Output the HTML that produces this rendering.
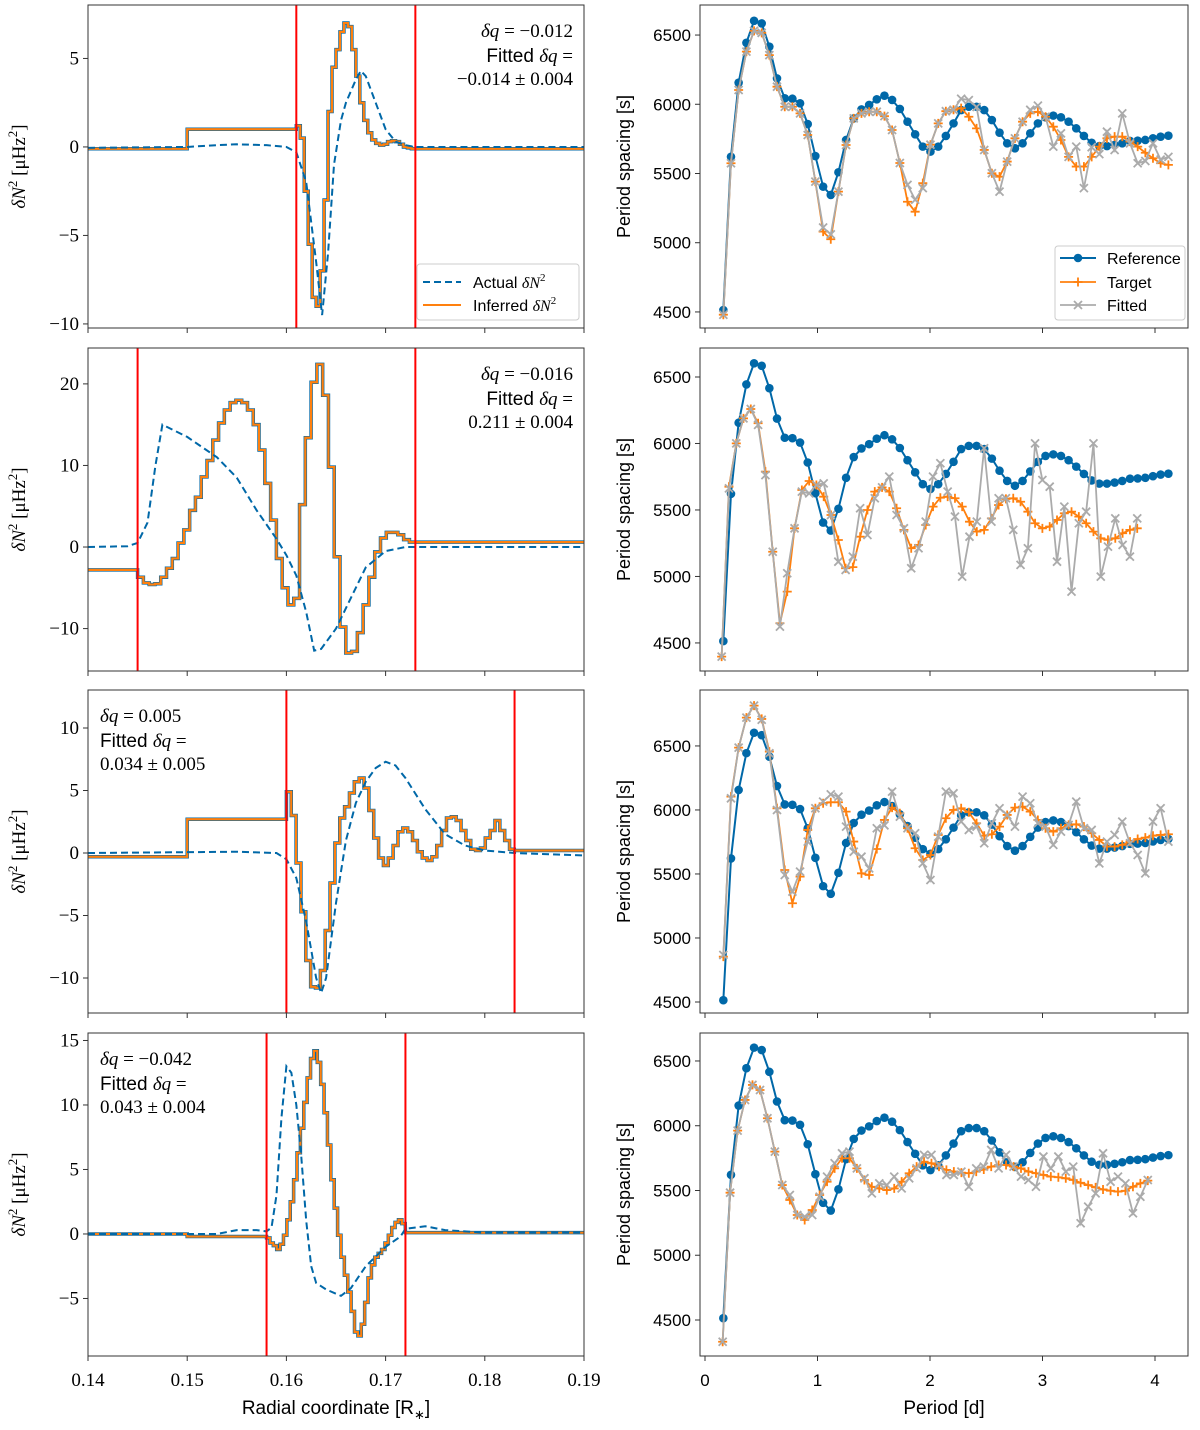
<!DOCTYPE html>
<html><head><meta charset="utf-8"><style>
body{margin:0;background:#fff}
svg text{font-family:"Liberation Sans",sans-serif}
.serif{font-family:"Liberation Serif",serif}
</style></head><body>
<svg id="fig" xmlns="http://www.w3.org/2000/svg" width="1200" height="1425" viewBox="0 0 1200 1425">
<rect width="1200" height="1425" fill="#fff"/>
</svg>
<script>
// ---------- Left panel data ----------
const actX1=[0.14,0.15,0.153,0.155,0.158,0.160,0.161,0.162,0.163,0.1636,0.1642,0.1648,0.1655,0.166,0.167,0.1675,0.168,0.169,0.170,0.171,0.172,0.173,0.19];
const actY1=[-0.05,0,0.1,0.15,0.1,0,-0.3,-2,-6.5,-9.5,-6,-1,1.5,2.5,3.8,4.3,4,2.5,1,0.3,0.1,0,0];
const actX2=[0.14,0.144,0.145,0.146,0.1468,0.1475,0.150,0.153,0.155,0.157,0.159,0.160,0.161,0.162,0.1628,0.1635,0.165,0.167,0.168,0.170,0.172,0.19];
const actY2=[0,0.1,0.5,3,10,15,13.5,11,8.5,4.5,1,-1,-3.5,-8,-12.7,-12.5,-10,-5,-2.5,-0.5,0,0];
const actX3=[0.14,0.155,0.159,0.160,0.161,0.162,0.163,0.1635,0.164,0.165,0.166,0.167,0.168,0.169,0.170,0.171,0.172,0.174,0.176,0.178,0.180,0.183,0.19];
const actY3=[0,0.1,0,-0.5,-2,-5.5,-10,-11.2,-10,-4,1,4,5.7,6.8,7.3,7,6,3.5,1.5,0.6,0.2,0,-0.2];
const actX4=[0.14,0.153,0.155,0.157,0.158,0.1585,0.159,0.1595,0.160,0.1605,0.161,0.1615,0.162,0.1625,0.163,0.164,0.1655,0.1665,0.168,0.170,0.1715,0.172,0.174,0.176,0.18,0.19];
const actY4=[0,0,0.3,0.3,0.2,0.5,3,9,13,12.5,10,6,1,-2.5,-3.8,-4.3,-4.8,-4.2,-2.5,-1,-0.2,0.4,0.6,0.3,0.1,0.1];
const flat1=[[0.14,0.15,-0.1],[0.15,0.161,1.0],[0.173,0.19,-0.1]];
const binStart1=0.161, binW1=0.0004;
const inf1=[1.2,0.5,-2.5,-5.5,-8.5,-9.0,-7,-3,2,4.5,5.5,6.5,7.0,6.8,5.5,4,2.5,1.5,0.8,0.4,0.2,0.1,0.15,0.3,0.35,0.3,0.15,0,-0.05,-0.1];
const flat2=[[0.14,0.145,-2.8],[0.173,0.19,0.6]];
const binStart2=0.145, binW2=0.000583;
const inf2=[-3.7,-4.4,-4.6,-4.5,-3.7,-2.6,-1.4,0.5,2.1,4.5,6.1,8.6,10.6,13.1,15.2,16.8,17.7,18,17.7,16.8,15,11.9,7.8,3.3,-1.4,-5,-7.1,-6.3,5.2,13.4,20.2,22.4,18.6,9.8,-1.2,-9.8,-13,-12.8,-10.5,-7.1,-3.7,-0.6,1.1,1.8,1.8,1.5,0.9,0.6];
const flat3=[[0.14,0.15,-0.3],[0.15,0.160,2.7],[0.183,0.19,0.2]];
const binStart3=0.160, binW3=0.000489;
const inf3=[4.9,3.0,-0.8,-4.7,-8.6,-10.7,-10.8,-9.4,-6.2,-2.4,0.8,2.8,3.7,4.8,5.7,6.0,5.2,3.4,1.2,-0.4,-1,-0.4,0.6,1.7,2,1.7,1,0.1,-0.4,-0.6,-0.3,0.6,1.8,2.8,2.9,2.6,1.8,1,0.3,0.2,0.4,1.2,1.8,2.6,1.8,1,0.3];
const flat4=[[0.14,0.15,0],[0.15,0.158,-0.2],[0.172,0.19,0.1]];
const binStart4=0.158, binW4=0.000341;
const inf4=[-0.3,-0.7,-0.9,-1.2,-0.8,-0.1,1.1,2.5,4.2,6.3,8.2,10.2,12.1,13.6,14.2,13.3,11.6,9.4,6.9,4.2,2.0,-0.1,-1.8,-3.2,-4.5,-6,-7.6,-7.9,-7,-5.3,-3.4,-2.4,-1.8,-1.5,-1.2,-0.7,-0.1,0.5,0.9,1.1,0.8];
const redLines1=[0.161,0.173], redLines2=[0.145,0.173], redLines3=[0.160,0.183], redLines4=[0.158,0.172];
const xTicksLeft=[0.14,0.15,0.16,0.17,0.18,0.19];
const xTickLabelsLeft=["0.14","0.15","0.16","0.17","0.18","0.19"];
const yTicks1=[-10,-5,0,5], yTicks2=[-10,0,10,20], yTicks3=[-10,-5,0,5,10], yTicks4=[-5,0,5,10,15];

// ---------- Right panel data ----------
const refPeriods=[0.163,0.231,0.299,0.368,0.436,0.504,0.572,0.640,0.709,0.777,0.845,0.913,0.981,1.050,1.118,1.186,1.254,1.322,1.391,1.459,1.527,1.595,1.663,1.732,1.800,1.868,1.936,2.004,2.073,2.141,2.209,2.277,2.345,2.414,2.482,2.550,2.618,2.686,2.755,2.823,2.891,2.959,3.027,3.096,3.164,3.232,3.300,3.368,3.437,3.505,3.573,3.641,3.709,3.778,3.846,3.914,3.982,4.050,4.119];
const refSpacing=[4514,5621,6156,6444,6603,6584,6416,6187,6043,6040,6007,5857,5626,5405,5345,5509,5742,5898,5963,5995,6036,6062,6031,5966,5874,5783,5694,5658,5694,5771,5862,5958,5982,5982,5958,5886,5795,5718,5682,5718,5790,5862,5906,5918,5906,5874,5826,5771,5722,5698,5698,5706,5718,5735,5737,5742,5754,5766,5773];
const target1=[4480,5574,6103,6380,6530,6516,6355,6127,5982,5982,5934,5778,5441,5080,5025,5369,5706,5898,5934,5946,5946,5914,5814,5576,5296,5224,5430,5708,5862,5950,5960,5972,5910,5826,5670,5502,5477,5586,5754,5874,5934,5946,5910,5838,5742,5620,5550,5550,5620,5694,5754,5766,5766,5730,5694,5650,5610,5574,5562];
const fitted1=[4480,5574,6103,6380,6530,6516,6355,6127,5982,5982,5934,5778,5441,5110,5060,5369,5706,5898,5934,5946,5946,5914,5814,5576,5418,5310,5394,5708,5862,5950,5960,6040,6030,5980,5670,5502,5369,5586,5754,5874,5960,5990,5910,5694,5790,5620,5694,5394,5690,5640,5802,5670,5934,5718,5574,5590,5718,5600,5620];
const periods2=[0.148,0.213,0.278,0.342,0.407,0.472,0.537,0.602,0.666,0.731,0.796,0.861,0.926,0.990,1.055,1.120,1.185,1.250,1.314,1.379,1.444,1.509,1.574,1.638,1.703,1.768,1.833,1.898,1.962,2.027,2.092,2.157,2.222,2.286,2.351,2.416,2.481,2.546,2.610,2.675,2.740,2.805,2.870,2.934,2.999,3.064,3.129,3.194,3.258,3.323,3.388,3.453,3.518,3.582,3.647,3.712,3.777,3.842];
const target2=[4397,5675,6001,6189,6259,6152,5788,5186,4648,4886,5362,5650,5718,5688,5600,5462,5274,5062,5070,5299,5500,5638,5670,5638,5513,5350,5212,5237,5387,5525,5592,5600,5588,5525,5412,5337,5350,5437,5537,5583,5588,5562,5487,5400,5362,5375,5425,5475,5487,5450,5400,5337,5287,5275,5287,5325,5350,5362];
const fitted2=[4397,5662,6001,6189,6259,6140,5762,5186,4623,5024,5362,5638,5625,5688,5700,5462,5111,5049,5149,5513,5312,5588,5670,5751,5462,5362,5062,5212,5412,5751,5851,5638,5450,4999,5299,5412,5964,5412,5588,5588,5350,5087,5212,6001,5725,5675,5111,5525,4886,5400,5487,6001,4999,5224,5437,5237,5149,5437];
const target3=[4854,6104,6487,6721,6815,6711,6456,6013,5531,5271,5479,5844,6013,6052,6060,6060,5987,5753,5505,5492,5695,5922,6018,5974,5857,5701,5609,5648,5805,5935,6000,6013,5982,5896,5799,5810,5870,5961,6018,6026,5987,5922,5857,5831,5857,5883,5888,5870,5818,5766,5714,5714,5727,5753,5773,5784,5799,5805,5810];
const fitted3=[4867,6091,6487,6721,6815,6705,6443,6000,5492,5362,5518,5753,6013,6065,6122,6104,5870,5674,5635,5544,5857,5880,6143,5948,5857,5818,5583,5453,5792,6143,6130,5909,5844,5870,5740,5896,6013,5961,5870,6104,6052,5896,5870,5727,5831,5883,6065,5857,5844,5583,5753,5805,5909,5740,5648,5505,5909,6013,5753];
const periods4=[0.157,0.223,0.290,0.356,0.422,0.489,0.555,0.621,0.687,0.754,0.820,0.886,0.953,1.019,1.085,1.152,1.218,1.284,1.350,1.417,1.483,1.549,1.616,1.682,1.748,1.815,1.881,1.947,2.013,2.080,2.146,2.212,2.279,2.345,2.411,2.478,2.544,2.610,2.676,2.743,2.809,2.875,2.942,3.008,3.074,3.141,3.207,3.273,3.339,3.406,3.472,3.538,3.605,3.671,3.737,3.804,3.870,3.936];
const target4=[4332,5483,5962,6199,6315,6276,6058,5800,5542,5427,5311,5272,5349,5465,5568,5671,5749,5749,5671,5581,5529,5516,5503,5516,5568,5633,5684,5723,5710,5684,5659,5646,5638,5633,5646,5662,5684,5697,5697,5684,5671,5646,5633,5620,5607,5602,5594,5581,5560,5542,5524,5508,5498,5491,5498,5529,5555,5576];
const fitted4=[4332,5483,5962,6199,6315,6276,6058,5800,5542,5465,5311,5298,5311,5452,5607,5710,5787,5800,5671,5594,5478,5555,5542,5607,5516,5594,5671,5775,5775,5697,5620,5620,5646,5529,5671,5684,5813,5671,5775,5684,5607,5581,5529,5762,5671,5762,5646,5684,5247,5375,5478,5787,5568,5607,5555,5324,5452,5581];
const xTicksRight=[0,1,2,3,4];
const yTicksRight=[4500,5000,5500,6000,6500];

const NS="http://www.w3.org/2000/svg";
const svg=document.getElementById('fig');
function el(tag,attrs,parent){const e=document.createElementNS(NS,tag);for(const k in attrs)e.setAttribute(k,attrs[k]);(parent||svg).appendChild(e);return e;}
const BLUE="#0068a8", ORANGE="#ff800e", GRAY="#ababab";

const leftPanels=[
 {top:5,bot:328,ymin:-10.23,ymax:8.02,ax:actX1,ay:actY1,flat:flat1,bs:binStart1,bw:binW1,inf:inf1,red:redLines1,yt:yTicks1},
 {top:348,bot:671,ymin:-15.2,ymax:24.4,ax:actX2,ay:actY2,flat:flat2,bs:binStart2,bw:binW2,inf:inf2,red:redLines2,yt:yTicks2},
 {top:690,bot:1013,ymin:-12.8,ymax:13.04,ax:actX3,ay:actY3,flat:flat3,bs:binStart3,bw:binW3,inf:inf3,red:redLines3,yt:yTicks3},
 {top:1033,bot:1356,ymin:-9.46,ymax:15.58,ax:actX4,ay:actY4,flat:flat4,bs:binStart4,bw:binW4,inf:inf4,red:redLines4,yt:yTicks4}];
const LX0=88,LX1=584;
function lx(v){return LX0+(v-0.14)/(0.19-0.14)*(LX1-LX0);}
leftPanels.forEach((p,i)=>{
  const ly=v=>p.bot-(v-p.ymin)/(p.ymax-p.ymin)*(p.bot-p.top);
  const g=el('g',{});
  
  
  const cid='clipL'+i;
  const cp=el('clipPath',{id:cid},g);el('rect',{x:LX0,y:p.top,width:LX1-LX0,height:p.bot-p.top},cp);
  let d='';
  p.flat.forEach(f=>{ if(f[0]<p.bs) d+=(d?'L':'M')+lx(f[0])+','+ly(f[2])+'L'+lx(f[1])+','+ly(f[2]); });
  p.inf.forEach((v,k)=>{const a=p.bs+k*p.bw,b=a+p.bw;d+='L'+lx(a)+','+ly(v)+'L'+lx(b)+','+ly(v);});
  p.flat.forEach(f=>{ if(f[0]>=p.bs) d+='L'+lx(f[0])+','+ly(f[2])+'L'+lx(f[1])+','+ly(f[2]); });
  const stepB=el('path',{d:d,fill:'none',stroke:BLUE,'stroke-width':3.5,'clip-path':'url(#'+cid+')'},g);
  
  
  const stepO=el('path',{d:d,fill:'none',stroke:ORANGE,'stroke-width':2.2,'clip-path':'url(#'+cid+')'},g);
  
  
  const ad=p.ax.map((x,k)=>(k?'L':'M')+lx(x)+','+ly(p.ay[k])).join('');
  const act=el('path',{d:ad,fill:'none',stroke:BLUE,'stroke-width':2,'stroke-dasharray':'7,4','clip-path':'url(#'+cid+')'},g);
  
  
  p.red.forEach(r=>{const ln=el('line',{x1:lx(r),x2:lx(r),y1:p.top,y2:p.bot,stroke:'#ff0000','stroke-width':2},g);
    
    });
  el('rect',{x:LX0,y:p.top,width:LX1-LX0,height:p.bot-p.top,fill:'none',stroke:'#333','stroke-width':1},g);
  xTicksLeft.forEach((t,k)=>{el('line',{x1:lx(t),x2:lx(t),y1:p.bot,y2:p.bot+5,stroke:'#333'},g);
    if(i===3){const tx=el('text',{x:lx(t),y:p.bot+30,'text-anchor':'middle','font-size':19,class:'serif'},g);tx.textContent=xTickLabelsLeft[k];
      
      }});
  p.yt.forEach(t=>{el('line',{x1:LX0-5,x2:LX0,y1:ly(t),y2:ly(t),stroke:'#333'},g);
    const tx=el('text',{x:LX0-9,y:ly(t)+6,'text-anchor':'end','font-size':19,class:'serif'},g);tx.textContent=(t<0?'\u2212'+(-t):String(t));
    
    });
  const yl=el('text',{transform:'translate(25,'+((p.top+p.bot)/2)+') rotate(-90)','text-anchor':'middle','font-size':19,class:'serif'},g);
  yl.innerHTML='<tspan font-style="italic">δN</tspan><tspan font-size="13" dy="-8">2</tspan><tspan dy="8"> [μHz</tspan><tspan font-size="13" dy="-8">2</tspan><tspan dy="8">]</tspan>';
  
  
});
const notes=[
 {x:573,y:[37,62,85],a:'end',l:['−0.012','−0.014 ± 0.004']},
 {x:573,y:[380,405,428],a:'end',l:['−0.016','0.211 ± 0.004']},
 {x:100,y:[722,747,770],a:'start',l:['0.005','0.034 ± 0.005']},
 {x:100,y:[1065,1090,1113],a:'start',l:['−0.042','0.043 ± 0.004']}];
notes.forEach((n,i)=>{
  const g=el('g',{});
  
  
  const t1=el('text',{x:n.x,y:n.y[0],'text-anchor':n.a,'font-size':19,class:'serif'},g);
  t1.innerHTML='<tspan font-style="italic">δq</tspan> = '+n.l[0];
  const t2=el('text',{x:n.x,y:n.y[1],'text-anchor':n.a,'font-size':19},g);
  t2.innerHTML='Fitted <tspan class="serif" font-style="italic">δq</tspan><tspan class="serif"> =</tspan>';
  const t3=el('text',{x:n.x,y:n.y[2],'text-anchor':n.a,'font-size':19,class:'serif'},g);
  t3.textContent=n.l[1];
});
(function(){
  const g=el('g',{});
  
  
  el('rect',{x:417,y:264,width:162,height:56,rx:3,fill:'#fff',stroke:'#ccc'},g);
  el('line',{x1:423,x2:461,y1:282,y2:282,stroke:BLUE,'stroke-width':2,'stroke-dasharray':'7,4'},g);
  el('line',{x1:423,x2:461,y1:305,y2:305,stroke:ORANGE,'stroke-width':2},g);
  const a=el('text',{x:473,y:288,'font-size':16},g);a.innerHTML='Actual <tspan class="serif" font-style="italic">δN</tspan><tspan class="serif" font-size="11" dy="-7">2</tspan>';
  
  const b=el('text',{x:473,y:311,'font-size':16},g);b.innerHTML='Inferred <tspan class="serif" font-style="italic">δN</tspan><tspan class="serif" font-size="11" dy="-7">2</tspan>';
  
})();
const xt=el('text',{x:336,y:1414,'text-anchor':'middle','font-size':19});
xt.innerHTML='Radial coordinate [R<tspan font-size="13" dy="5">∗</tspan><tspan dy="-5">]</tspan>';



const rightPanels=[
 {top:5,bot:328,ymin:4384,ymax:6717,tp:refPeriods,t:target1,f:fitted1},
 {top:348,bot:671,ymin:4289,ymax:6718,tp:periods2,t:target2,f:fitted2},
 {top:690,bot:1013,ymin:4414,ymax:6937,tp:refPeriods,t:target3,f:fitted3},
 {top:1033,bot:1356,ymin:4222,ymax:6716,tp:periods4,t:target4,f:fitted4}];
const RX0=700,RX1=1188;
function rx(v){return 705+v*112.5;}
rightPanels.forEach((p,i)=>{
  const ry=v=>p.bot-(v-p.ymin)/(p.ymax-p.ymin)*(p.bot-p.top);
  const g=el('g',{});
  
  
  const rd=refPeriods.map((x,k)=>(k?'L':'M')+rx(x)+','+ry(refSpacing[k])).join('');
  const rl=el('path',{d:rd,fill:'none',stroke:BLUE,'stroke-width':2},g);
  
  
  refPeriods.forEach((x,k)=>{const c=el('circle',{cx:rx(x),cy:ry(refSpacing[k]),r:4.3,fill:BLUE},g);
    
    });
  const td=p.t.map((v,k)=>(k?'L':'M')+rx(p.tp[k])+','+ry(v)).join('');
  const tl=el('path',{d:td,fill:'none',stroke:ORANGE,'stroke-width':1.8},g);
  
  
  p.t.forEach((v,k)=>{const X=rx(p.tp[k]),Y=ry(v);
    const m=el('path',{d:`M${X-4.5},${Y}H${X+4.5}M${X},${Y-4.5}V${Y+4.5}`,stroke:ORANGE,'stroke-width':1.8},g);
    
    });
  const fd=p.f.map((v,k)=>(k?'L':'M')+rx(p.tp[k])+','+ry(v)).join('');
  const fl=el('path',{d:fd,fill:'none',stroke:GRAY,'stroke-width':1.8},g);
  
  
  p.f.forEach((v,k)=>{const X=rx(p.tp[k]),Y=ry(v);
    const m=el('path',{d:`M${X-4},${Y-4}L${X+4},${Y+4}M${X-4},${Y+4}L${X+4},${Y-4}`,stroke:GRAY,'stroke-width':1.8},g);
    
    });
  el('rect',{x:RX0,y:p.top,width:RX1-RX0,height:p.bot-p.top,fill:'none',stroke:'#333'},g);
  xTicksRight.forEach(t=>{el('line',{x1:rx(t),x2:rx(t),y1:p.bot,y2:p.bot+5,stroke:'#333'},g);
    if(i===3){const tx=el('text',{x:rx(t),y:p.bot+30,'text-anchor':'middle','font-size':17},g);tx.textContent=String(t);
      
      }});
  yTicksRight.forEach(t=>{el('line',{x1:RX0-5,x2:RX0,y1:ry(t),y2:ry(t),stroke:'#333'},g);
    const tx=el('text',{x:RX0-9,y:ry(t)+6,'text-anchor':'end','font-size':17},g);tx.textContent=String(t);
    
    });
  const yl=el('text',{transform:'translate(630,'+((p.top+p.bot)/2)+') rotate(-90)','text-anchor':'middle','font-size':18},g);
  yl.textContent='Period spacing [s]';
  
  
});
(function(){
  const g=el('g',{});
  
  
  el('rect',{x:1055,y:246,width:130,height:74,rx:3,fill:'#fff',stroke:'#ccc'},g);
  el('line',{x1:1060,x2:1096,y1:258,y2:258,stroke:BLUE,'stroke-width':2},g);
  el('circle',{cx:1078,cy:258,r:4.3,fill:BLUE},g);
  el('line',{x1:1060,x2:1096,y1:282,y2:282,stroke:ORANGE,'stroke-width':1.8},g);
  el('path',{d:'M1073.5,282H1082.5M1078,277.5V286.5',stroke:ORANGE,'stroke-width':1.8},g);
  el('line',{x1:1060,x2:1096,y1:305,y2:305,stroke:GRAY,'stroke-width':1.8},g);
  el('path',{d:'M1074,301L1082,309M1074,309L1082,301',stroke:GRAY,'stroke-width':1.8},g);
  [['Reference',264],['Target',288],['Fitted',311]].forEach(e=>{const t=el('text',{x:1107,y:e[1],'font-size':16},g);t.textContent=e[0];
    
    });
})();
const xt2=el('text',{x:944,y:1414,'text-anchor':'middle','font-size':19});
xt2.textContent='Period [d]';


</script>
</body></html>
